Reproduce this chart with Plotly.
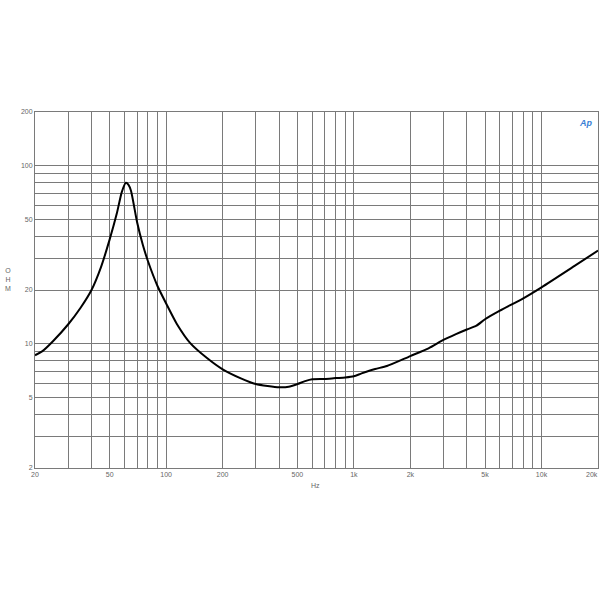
import plotly.graph_objects as go

freq_hz = [20, 22, 25, 30, 35, 40, 45, 50, 54.6, 58, 61, 63, 65, 70, 75, 80, 90, 100,
           114, 134, 165, 200, 250, 300, 400, 450, 500, 550, 600, 700, 800, 900, 1000,
           1100, 1300, 1500, 2000, 2500, 3000, 3500, 4000, 4500, 5000, 6000, 8000,
           10000, 15000, 20000]
impedance_ohm = [8.6, 9.1, 10.34, 12.8, 15.9, 20.0, 27.0, 38.5, 53.9, 71.0, 80.0, 78.0,
                 72.0, 48.0, 36.0, 29.0, 21.0, 16.8, 12.9, 10.1, 8.3, 7.17, 6.38, 5.93,
                 5.68, 5.72, 5.92, 6.15, 6.3, 6.33, 6.4, 6.45, 6.55, 6.8, 7.2, 7.48, 8.51,
                 9.4, 10.48, 11.3, 12.0, 12.6, 13.7, 15.3, 17.96, 20.7, 27.3, 33.3]

x_grid = [20, 30, 40, 50, 60, 70, 80, 90, 100, 200, 300, 400, 500, 600, 700, 800, 900,
          1000, 2000, 3000, 4000, 5000, 6000, 7000, 8000, 9000, 10000, 20000]
x_labels = {20: "20", 50: "50", 100: "100", 200: "200", 500: "500", 1000: "1k",
            2000: "2k", 5000: "5k", 10000: "10k"}
x_edge_label = "20k"
y_grid = [2, 3, 4, 5, 6, 7, 8, 9, 10, 20, 30, 40, 50, 60, 70, 80, 90, 100, 200]
y_labels = {2: "2", 5: "5", 10: "10", 20: "20", 50: "50", 100: "100", 200: "200"}

grid_col = "#7a7a7a"
txt_col = "#666666"

fig = go.Figure()
fig.add_trace(go.Scatter(x=freq_hz, y=impedance_ohm, mode="lines",
                         line=dict(color="black", width=2, shape="spline", smoothing=0.6),
                         showlegend=False, hoverinfo="skip"))

fig.update_layout(
    width=600, height=600,
    margin=dict(l=35, r=2, t=112, b=132),
    paper_bgcolor="white", plot_bgcolor="white",
    font=dict(family="Liberation Sans, Arial", size=7, color=txt_col),
)
fig.update_xaxes(type="log", range=[1.30103, 4.30103], automargin=False,
                 tickvals=x_grid, ticktext=[x_labels.get(v, "") for v in x_grid],
                 showgrid=True, gridcolor=grid_col, gridwidth=1,
                 showline=True, linecolor=grid_col, linewidth=1, mirror=True,
                 ticks="", tickfont=dict(size=7, color=txt_col), zeroline=False)
fig.update_yaxes(type="log", range=[0.30103, 2.30103], automargin=False,
                 tickvals=y_grid, ticktext=[y_labels.get(v, "") for v in y_grid],
                 showgrid=True, gridcolor=grid_col, gridwidth=1,
                 showline=True, linecolor=grid_col, linewidth=1, mirror=True,
                 ticks="", tickfont=dict(size=7, color=txt_col), zeroline=False)

fig.add_annotation(text=x_edge_label, xref="paper", yref="paper", x=1.0, y=-0.004,
                   showarrow=False, font=dict(size=7, color=txt_col),
                   xanchor="right", yanchor="top", xshift=2)
fig.add_annotation(text="O<br>H<br>M", xref="paper", yref="paper", x=-0.048, y=0.53,
                   showarrow=False, font=dict(size=7, color=txt_col), align="center",
                   xanchor="center", yanchor="middle")
fig.add_annotation(text="Hz", xref="paper", yref="paper", x=0.499, y=-0.035,
                   showarrow=False, font=dict(size=7, color=txt_col),
                   xanchor="center", yanchor="top")
fig.add_annotation(text="<i><b>Ap</b></i>", xref="paper", yref="paper", x=0.995, y=0.99,
                   showarrow=False, font=dict(size=9, color="#3a7fd5"),
                   xanchor="right", yanchor="top")

fig.write_html("out.html", config={"displayModeBar": False},
               post_script="document.body.style.margin='0';")
